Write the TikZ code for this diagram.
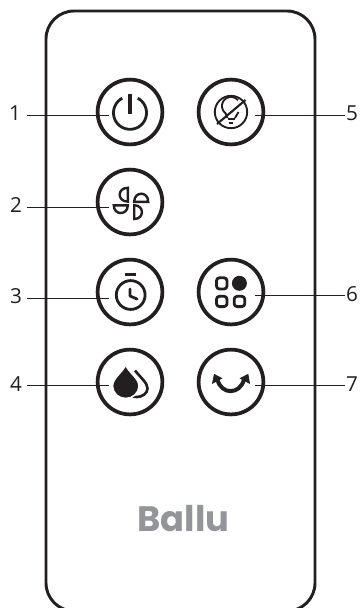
\documentclass[tikz,border=0pt]{standalone}
\usepackage{fontspec}
\setmainfont{Open Sans}
\newfontfamily\logofont{Poppins}
\definecolor{ink}{HTML}{231F20}
\definecolor{logogray}{HTML}{939598}
\tikzset{
  bodyline/.style={draw=ink,line width=2.2pt,rounded corners=21pt},
  btn/.style={circle,draw=ink,line width=2.8pt,minimum size=48.6pt,inner sep=0pt},
  leader/.style={draw=ink,line width=0.65pt},
  numlabel/.style={text=ink,font=\fontsize{15.5}{15.5}\selectfont,inner sep=0pt},
  iconline/.style={draw=ink,line width=2.1pt,line cap=round,line join=round},
  iconflat/.style={draw=ink,line width=1.8pt,line join=miter},
  iconthin/.style={draw=ink,line width=1.4pt},
  iconsolid/.style={fill=ink,draw=none}
}
\begin{document}
\begin{tikzpicture}[x=0.75pt,y=-0.75pt]
\useasboundingbox (0,0) rectangle (360,608);
\clip (0,0) rectangle (360,608);
\fill[white] (0,0) rectangle (360,608);
% body
\draw[bodyline] (46,11) rectangle (315,611);
% buttons
\node[btn] (b1) at (130,112) {};
\node[btn] (b2) at (130,202) {};
\node[btn] (b3) at (130,292) {};
\node[btn] (b4) at (130,382) {};
\node[btn] (b5) at (231,112) {};
\node[btn] (b6) at (231,292) {};
\node[btn] (b7) at (231,382) {};
% labels
\node[numlabel] (l1) at (15,113.5) {1};
\node[numlabel] (l2) at (16,205.5) {2};
\node[numlabel] (l3) at (16,296) {3};
\node[numlabel] (l4) at (16,384) {4};
\node[numlabel] (l5) at (352,113.5) {5};
\node[numlabel] (l6) at (352,294) {6};
\node[numlabel] (l7) at (352,384) {7};
% leader ends
\coordinate (s1) at (27,115); \coordinate (e1) at (109,115);
\coordinate (s2) at (27,207); \coordinate (e2) at (109,207);
\coordinate (s3) at (27,298); \coordinate (e3) at (109,298);
\coordinate (s4) at (27,385); \coordinate (e4) at (109,385);
\coordinate (s5) at (345,115); \coordinate (e5) at (255,115);
\coordinate (s6) at (345,295); \coordinate (e6) at (255,295);
\coordinate (s7) at (345,385); \coordinate (e7) at (255,385);
\foreach \i in {1,...,7} {\draw[leader] (s\i) -- (e\i);}
% power
\draw[iconline,line cap=butt] plot[domain=-62:242,samples=70,smooth] ({130+16.5*cos(\x)},{112.8+16.5*sin(\x)});
\draw[iconline,line cap=butt,line width=2.3pt] (130,93.5) -- (130,113.5);
% bulb
\draw[iconthin] (231,112) circle[radius=16.2];
\draw[iconthin,line width=1.6pt] (217,124) -- (245.5,100);
\draw[iconthin] plot[domain=-40:-232,samples=50,smooth] ({231+9*cos(\x)},{106+9*sin(\x)}) -- (227.5,118);
\draw[iconthin] (238.5,112) -- (235,118);
\draw[iconthin] (227.5,119.3) -- (234.5,119.3);
\draw[iconthin] (229,122.8) -- (232.7,122.8);
% fan
\draw[iconflat] (127.8,187.8) .. controls (117,187.8) and (117,201.6) .. (127.8,201.6) -- cycle;
\draw[iconflat] (134.2,201.8) .. controls (134.2,191) and (148.2,191) .. (148.2,201.8) -- cycle;
\draw[iconflat] (113.8,205.3) .. controls (113.8,215.6) and (127.8,215.6) .. (127.8,205.3) -- cycle;
\draw[iconflat] (134.2,205.2) .. controls (144.5,205.2) and (144.5,219) .. (134.2,219) -- cycle;
% clock
\draw[iconline] (130.7,295) circle[radius=14.4];
\draw[iconline,line cap=butt] (124.5,274.2) -- (136,274.2);
\draw[iconline,line cap=round] (130,289) -- (130,296) -- (137,299);
% squares
\draw[iconline,rounded corners=2.2pt] (216.5,277.8) rectangle (227,289);
\draw[iconline,rounded corners=2.2pt] (216.5,296.3) rectangle (227,306.6);
\draw[iconline,rounded corners=2.2pt] (234.2,296.3) rectangle (244.8,306.6);
\fill[ink] (239.4,283.3) circle[radius=7.5];
% drops
\draw[iconline,line width=2pt,line cap=butt] (135,370.5) .. controls (141,378) and (147.5,383) .. (147.5,388.5) .. controls (147.5,393.5) and (142,397) .. (137,397) .. controls (133,397) and (130,395) .. (127,392);
\draw[iconsolid,draw=white,line width=1.2pt,fill=ink] (125.7,364.5) .. controls (128,372) and (139,378) .. (139,386) .. controls (139,393) and (133,398.5) .. (125.7,398.5) .. controls (118.5,398.5) and (112.5,393) .. (112.5,386) .. controls (112.5,378) and (123,372) .. (125.7,364.5) -- cycle;
% swing
\draw[iconline,line cap=butt,line width=3pt] (217.5,379.5) .. controls (221,395) and (240,395) .. (244,379.5);
\fill[ink] (214,373.8) -- (222.5,378.3) -- (212,384) -- cycle;
\fill[ink] (248.3,373.8) -- (239.5,378.3) -- (250,384) -- cycle;
% logo
\node[inner sep=0pt,text=logogray,anchor=base,font=\logofont\bfseries\fontsize{26.5}{26.5}\selectfont] (logo) at (183.5,531.5) {Ballu};
\end{tikzpicture}
\end{document}
